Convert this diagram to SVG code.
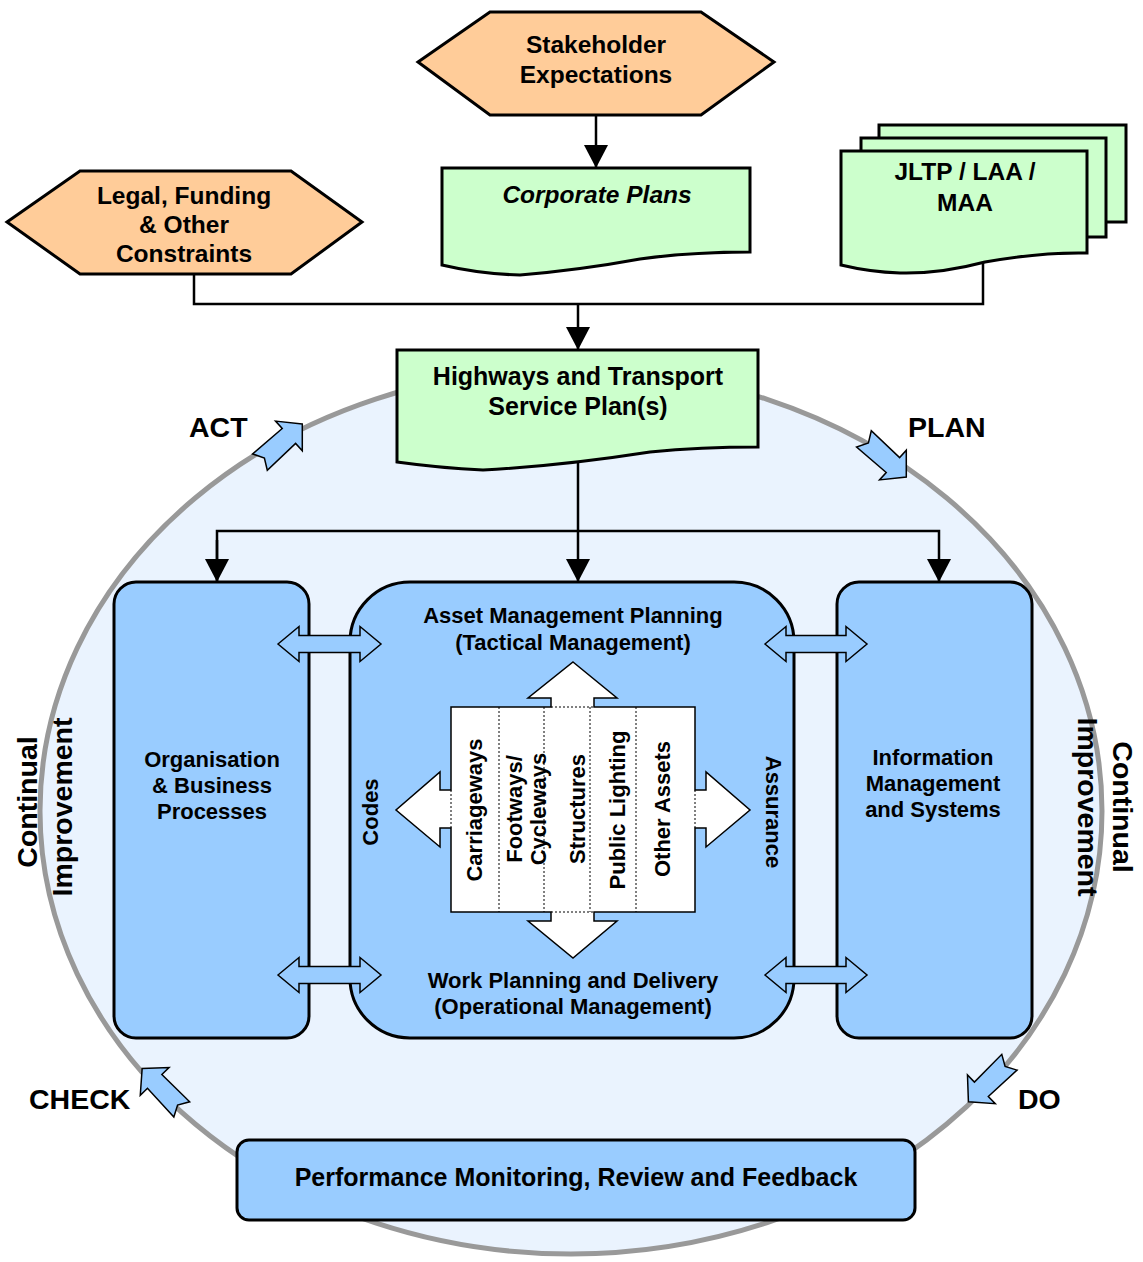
<svg xmlns="http://www.w3.org/2000/svg" width="1143" height="1262" viewBox="0 0 1143 1262">
<defs>
<style>
text{font-family:"Liberation Sans",Arial,sans-serif;font-weight:bold;fill:#000}
.t24{font-size:24.5px;text-anchor:middle}
.t25{font-size:25px;text-anchor:middle}
.t22{font-size:22px;text-anchor:middle}
.big{font-size:28.5px}
.hex{fill:#FFCC99;stroke:#000;stroke-width:3;stroke-linejoin:miter}
.doc{fill:#CCFFCC;stroke:#000;stroke-width:3;stroke-linejoin:miter}
.blue{fill:#99CCFF;stroke:#000;stroke-width:3}
.dbl{fill:#99CCFF;stroke:#000;stroke-width:1.5}
.cyc{fill:#99CCFF;stroke:#000;stroke-width:1.5;stroke-linejoin:miter}
.conn{fill:none;stroke:#000;stroke-width:2.5}
.dot{fill:none;stroke:#000;stroke-width:1;stroke-dasharray:2,2}
</style>
<marker id="ah" markerUnits="userSpaceOnUse" markerWidth="24" markerHeight="24" refX="23" refY="12" orient="auto">
<path d="M0,0 L23,12 L0,24 Z" fill="#000"/>
</marker>
<path id="cycArrow" d="M30,0 L12,-20 L12,-10 L-27,-11 L-21,0 L-27,11 L12,10 L12,20 Z"/>
</defs>

<rect width="1143" height="1262" fill="#fff"/>

<g id="cycle-ellipse">
<ellipse cx="571" cy="811" rx="531" ry="443" fill="#EAF3FE" stroke="#999" stroke-width="5"/>
</g>

<g id="connectors">
<line class="conn" x1="596" y1="115" x2="596" y2="168" marker-end="url(#ah)"/>
<polyline class="conn" points="194,274 194,304 983,304 983,262"/>
<line class="conn" x1="578" y1="304" x2="578" y2="350" marker-end="url(#ah)"/>
<line class="conn" x1="578" y1="462" x2="578" y2="582" marker-end="url(#ah)"/>
<polyline class="conn" points="217,582 217,531 939,531 939,582" marker-end="url(#ah)"/>
<line class="conn" x1="217" y1="540" x2="217" y2="582" marker-end="url(#ah)"/>
</g>

<g id="stakeholder">
<polygon class="hex" points="418,62 490,12 701,12 774,62 701,115 490,115"/>
<text class="t24" x="596" y="53">Stakeholder</text>
<text class="t24" x="596" y="83">Expectations</text>
</g>

<g id="legal">
<polygon class="hex" points="7,222 80,171 291,171 362,222 291,274 80,274"/>
<text class="t24" x="184" y="204">Legal, Funding</text>
<text class="t24" x="184" y="233">&amp; Other</text>
<text class="t24" x="184" y="262">Constraints</text>
</g>

<g id="corporate-plans">
<path class="doc" d="M442,168 H750 V252 Q690,252 640,259 Q580,270 520,275 Q480,274 442,265 Z"/>
<text class="t24" x="597" y="203" font-style="italic">Corporate Plans</text>
</g>

<g id="jltp">
<rect class="doc" x="879" y="125" width="247" height="97"/>
<rect class="doc" x="861" y="138" width="245" height="99"/>
<path class="doc" d="M841,151 H1087 V253 Q1040,252 985,262 Q940,274 900,273 Q870,272 841,265 Z"/>
<text class="t24" x="965" y="180">JLTP / LAA /</text>
<text class="t24" x="965" y="211">MAA</text>
</g>

<g id="service-plan">
<path class="doc" d="M397,350 H758 V447 Q700,447 650,452 Q560,466 483,470 Q440,468 397,462 Z"/>
<text class="t25" x="578" y="385">Highways and Transport</text>
<text class="t25" x="578" y="415">Service Plan(s)</text>
</g>

<g id="organisation">
<rect class="blue" x="114" y="582" width="195" height="456" rx="22"/>
<text class="t22" x="212" y="767">Organisation</text>
<text class="t22" x="212" y="793">&amp; Business</text>
<text class="t22" x="212" y="819">Processes</text>
</g>

<g id="information">
<rect class="blue" x="837" y="582" width="195" height="456" rx="22"/>
<text class="t22" x="933" y="765">Information</text>
<text class="t22" x="933" y="791">Management</text>
<text class="t22" x="933" y="817">and Systems</text>
</g>

<g id="asset-management">
<rect class="blue" x="350" y="582" width="444" height="456" rx="60"/>
<text class="t22" x="573" y="623">Asset Management Planning</text>
<text class="t22" x="573" y="650">(Tactical Management)</text>
<text class="t22" x="573" y="988">Work Planning and Delivery</text>
<text class="t22" x="573" y="1014">(Operational Management)</text>
<text class="t22" transform="translate(378,812) rotate(-90)">Codes</text>
<text class="t22" transform="translate(766,812) rotate(90)">Assurance</text>
</g>

<g id="asset-types">
<polygon fill="#fff" stroke="#000" stroke-width="1.5" points="573,662 617,698 594,698 594,707 695,707 695,790 706,790 706,772 750,810 706,847 706,828 695,828 695,912 594,912 594,921 617,921 573,958 528,921 551,921 551,912 451,912 451,828 440,828 440,847 396,810 440,772 440,790 451,790 451,707 551,707 551,698 528,698"/>
<line class="dot" x1="551" y1="707" x2="594" y2="707"/>
<line class="dot" x1="551" y1="912" x2="594" y2="912"/>
<line class="dot" x1="451" y1="790" x2="451" y2="828"/>
<line class="dot" x1="695" y1="790" x2="695" y2="828"/>
<line class="dot" x1="499" y1="707" x2="499" y2="912"/>
<line class="dot" x1="544" y1="707" x2="544" y2="912"/>
<line class="dot" x1="590" y1="707" x2="590" y2="912"/>
<line class="dot" x1="636" y1="707" x2="636" y2="912"/>
<text class="t22" transform="translate(482,810) rotate(-90)">Carriageways</text>
<text class="t22" transform="translate(522,809) rotate(-90)">Footways/</text>
<text class="t22" transform="translate(546,809) rotate(-90)">Cycleways</text>
<text class="t22" transform="translate(585,809) rotate(-90)">Structures</text>
<text class="t22" transform="translate(625,810) rotate(-90)">Public Lighting</text>
<text class="t22" transform="translate(670,809) rotate(-90)">Other Assets</text>
</g>

<g id="links">
<polygon class="dbl" points="278,644 299,626.5 299,635.5 360,635.5 360,626.5 381,644 360,661.5 360,652.5 299,652.5 299,661.5"/>
<polygon class="dbl" points="278,975 299,957.5 299,966.5 360,966.5 360,957.5 381,975 360,992.5 360,983.5 299,983.5 299,992.5"/>
<polygon class="dbl" points="765,644 786,626.5 786,635.5 846,635.5 846,626.5 867,644 846,661.5 846,652.5 786,652.5 786,661.5"/>
<polygon class="dbl" points="765,975 786,957.5 786,966.5 846,966.5 846,957.5 867,975 846,992.5 846,983.5 786,983.5 786,992.5"/>
</g>

<g id="performance">
<rect class="blue" x="237" y="1140" width="678" height="80" rx="12"/>
<text class="t25" x="576" y="1186">Performance Monitoring, Review and Feedback</text>
</g>

<g id="cycle-labels">
<use href="#cycArrow" class="cyc" transform="translate(280,444) rotate(-42)"/>
<use href="#cycArrow" class="cyc" transform="translate(884,457) rotate(42)"/>
<use href="#cycArrow" class="cyc" transform="translate(990,1081) rotate(136)"/>
<use href="#cycArrow" class="cyc" transform="translate(163,1090) rotate(-134)"/>
<text class="big" x="189" y="437">ACT</text>
<text class="big" x="908" y="437">PLAN</text>
<text class="big" x="29" y="1109">CHECK</text>
<text class="big" x="1018" y="1109">DO</text>
<text class="big" text-anchor="middle" transform="translate(37,802) rotate(-90)">Continual</text>
<text class="big" text-anchor="middle" transform="translate(72,807) rotate(-90)">Improvement</text>
<text class="big" text-anchor="middle" transform="translate(1113,807) rotate(90)">Continual</text>
<text class="big" text-anchor="middle" transform="translate(1078,807) rotate(90)">Improvement</text>
</g>
</svg>
